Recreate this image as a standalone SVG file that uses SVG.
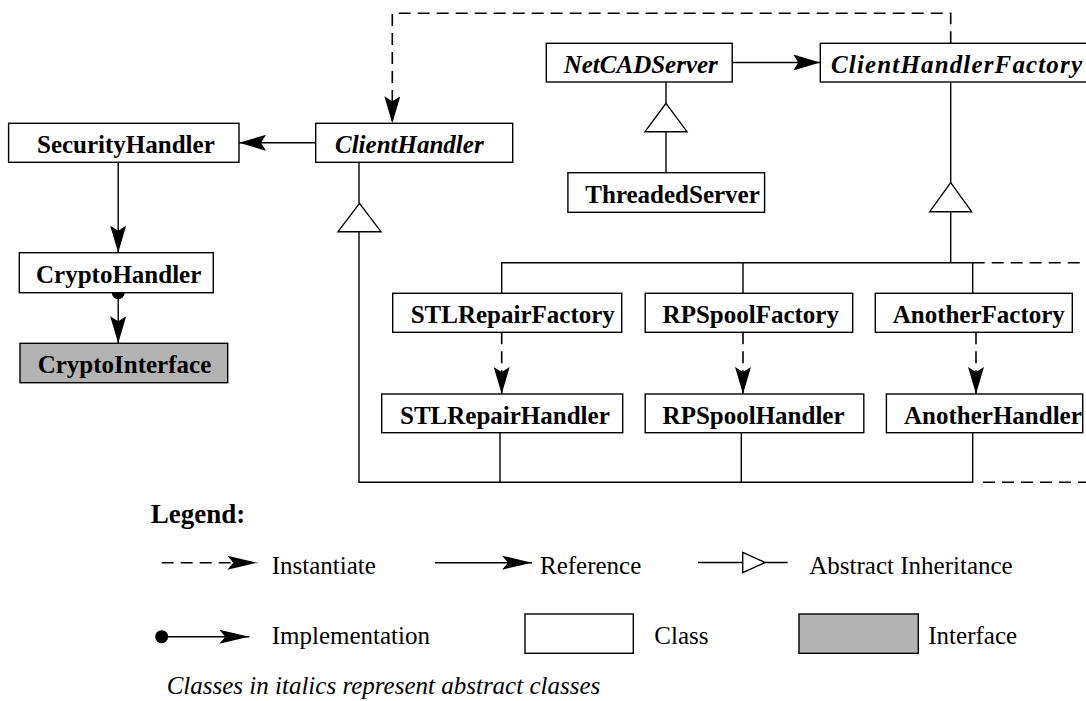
<svg xmlns="http://www.w3.org/2000/svg" width="1086" height="701" viewBox="0 0 1086 701">
  <style>
    .box { fill: #ffffff; stroke: #000000; stroke-width: 1.4; }
    .iface { fill: #b3b3b3; stroke: #000000; stroke-width: 1.4; }
    .lbl { font-family: "Liberation Serif", "Times New Roman", serif; font-size: 25px; font-weight: bold; fill: #000000; }
    .abs { font-style: italic; }
    .line { fill: none; stroke: #000000; stroke-width: 1.4; }
    .dash { fill: none; stroke: #000000; stroke-width: 1.6; stroke-dasharray: 12 7; }
    .tri { fill: #ffffff; stroke: #000000; stroke-width: 1.4; stroke-linejoin: miter; }
    .txt { font-family: "Liberation Serif", "Times New Roman", serif; font-size: 25px; fill: #000000; }
  </style>
  <defs>
    <marker id="arrow" markerUnits="userSpaceOnUse" markerWidth="27" markerHeight="16" viewBox="0 0 27 16" refX="27" refY="8" orient="auto">
      <path d="M0,0 L27,8 L0,16 L5,8 Z" fill="#000000" stroke="none"/>
    </marker>
    <marker id="arrow-legend" markerUnits="userSpaceOnUse" markerWidth="30" markerHeight="14" viewBox="0 0 30 14" refX="30" refY="7" orient="auto">
      <path d="M0,0 L30,7 L0,14 L6,7 Z" fill="#000000" stroke="none"/>
    </marker>
  </defs>

  <!-- connectors -->
  <g id="connectors">
    <!-- instantiate: ClientHandlerFactory -> ClientHandler -->
    <path class="dash" d="M950.7,43.3 V13.3 H392.3 V123.3" marker-end="url(#arrow)"/>
    <!-- reference: ClientHandler -> SecurityHandler -->
    <path class="line" d="M315.7,142.8 H239" marker-end="url(#arrow)"/>
    <!-- reference: NetCADServer -> ClientHandlerFactory -->
    <path class="line" d="M732.2,62.5 H820.3" marker-end="url(#arrow)"/>
    <!-- reference: SecurityHandler -> CryptoHandler -->
    <path class="line" d="M118.2,162.3 V252.7" marker-end="url(#arrow)"/>
    <!-- implementation: CryptoHandler -> CryptoInterface -->
    <path class="line" d="M118.2,292.7 V343.3" marker-end="url(#arrow)"/>
    <circle cx="118.2" cy="292.7" r="6.5" fill="#000000"/>

    <!-- inheritance: ThreadedServer -> NetCADServer -->
    <path class="line" d="M666,82 V103.3 M666,131.7 V172.7"/>
    <path class="tri" d="M666,103.3 L687,131.7 L645,131.7 Z"/>

    <!-- inheritance: factories -> ClientHandlerFactory -->
    <path class="line" d="M950.7,82 V182.7 M950.7,211.7 V262.7"/>
    <path class="tri" d="M950.7,182.7 L971.7,211.7 L929.7,211.7 Z"/>
    <path class="line" d="M501.7,293.3 V262.7 H972.7 V293.3 M743,262.7 V293.3"/>
    <path class="dash" d="M972.7,262.7 H1090" stroke-dasharray="13 7"/>

    <!-- inheritance: handlers -> ClientHandler -->
    <path class="line" d="M359,162.3 V203.3 M359,231.7 V482.3 H972.7 V432.7 M500,432.7 V482.3 M741.3,432.7 V482.3"/>
    <path class="tri" d="M359.5,203.3 L381,231.7 L338,231.7 Z"/>
    <path class="dash" d="M983,482.3 H1090" stroke-dasharray="13 7"/>

    <!-- instantiate: factories -> handlers -->
    <path class="dash" d="M501.7,332.3 V394" marker-end="url(#arrow)"/>
    <path class="dash" d="M743,332.3 V394" marker-end="url(#arrow)"/>
    <path class="dash" d="M976,332.3 V394" marker-end="url(#arrow)"/>
  </g>

  <!-- classes -->
  <g id="SecurityHandler">
    <rect class="box" x="8.6" y="123.3" width="230.4" height="39"/>
    <text class="lbl" x="37" y="153.3">SecurityHandler</text>
  </g>
  <g id="ClientHandler">
    <rect class="box" x="315.7" y="123.3" width="197" height="39"/>
    <text class="lbl abs" x="335" y="153.3">ClientHandler</text>
  </g>
  <g id="NetCADServer">
    <rect class="box" x="546.3" y="43.3" width="185.9" height="38.7"/>
    <text class="lbl abs" x="563.7" y="73.3">NetCADServer</text>
  </g>
  <g id="ClientHandlerFactory">
    <rect class="box" x="820.3" y="43.3" width="280" height="38.7"/>
    <text class="lbl abs" x="831" y="73.3" textLength="251" lengthAdjust="spacing">ClientHandlerFactory</text>
  </g>
  <g id="ThreadedServer">
    <rect class="box" x="567.9" y="172.7" width="196.7" height="39.6"/>
    <text class="lbl" x="585.3" y="202.7">ThreadedServer</text>
  </g>
  <g id="CryptoHandler">
    <rect class="box" x="19.3" y="252.7" width="194" height="40"/>
    <text class="lbl" x="36" y="282.7">CryptoHandler</text>
  </g>
  <g id="CryptoInterface">
    <rect class="iface" x="20" y="343.3" width="207.7" height="39.4"/>
    <text class="lbl" x="37.7" y="373.3">CryptoInterface</text>
  </g>
  <g id="STLRepairFactory">
    <rect class="box" x="392.7" y="293.3" width="229" height="39"/>
    <text class="lbl" x="410.7" y="323.3">STLRepairFactory</text>
  </g>
  <g id="RPSpoolFactory">
    <rect class="box" x="645.2" y="293.3" width="207.5" height="39"/>
    <text class="lbl" x="662.6" y="323.3">RPSpoolFactory</text>
  </g>
  <g id="AnotherFactory">
    <rect class="box" x="875.3" y="293.3" width="197" height="39"/>
    <text class="lbl" x="892.7" y="323.3">AnotherFactory</text>
  </g>
  <g id="STLRepairHandler">
    <rect class="box" x="381.7" y="394" width="241" height="38.7"/>
    <text class="lbl" x="400" y="424">STLRepairHandler</text>
  </g>
  <g id="RPSpoolHandler">
    <rect class="box" x="645.2" y="394" width="218.6" height="38.7"/>
    <text class="lbl" x="662.6" y="424">RPSpoolHandler</text>
  </g>
  <g id="AnotherHandler">
    <rect class="box" x="886.4" y="394" width="196.3" height="38.7"/>
    <text class="lbl" x="904" y="424">AnotherHandler</text>
  </g>

  <!-- legend -->
  <g id="legend">
    <text class="lbl" x="150.7" y="523.3" style="font-size:27px">Legend:</text>

    <path class="dash" d="M161.7,562.7 H257.3" stroke-dasharray="11 7" marker-end="url(#arrow-legend)"/>
    <text class="txt" x="271.7" y="574">Instantiate</text>

    <path class="line" d="M435,562.7 H532" marker-end="url(#arrow-legend)"/>
    <text class="txt" x="540" y="574">Reference</text>

    <path class="line" d="M698,562.5 H742.7 M765,562.5 H787.7"/>
    <path class="tri" d="M742.7,552.3 L765,562.5 L742.7,572.7 Z"/>
    <text class="txt" x="809.3" y="573.5">Abstract Inheritance</text>

    <circle cx="161.7" cy="636.7" r="6.5" fill="#000000"/>
    <path class="line" d="M161.7,636.7 H249.3" marker-end="url(#arrow-legend)"/>
    <text class="txt" x="271.7" y="644">Implementation</text>

    <rect class="box" x="525" y="614" width="108.3" height="39.3"/>
    <text class="txt" x="654.3" y="644">Class</text>

    <rect class="iface" x="799" y="614" width="119.3" height="39.3"/>
    <text class="txt" x="928.3" y="644">Interface</text>

    <text class="txt" x="166.7" y="693.5" font-style="italic">Classes in italics represent abstract classes</text>
  </g>
</svg>
